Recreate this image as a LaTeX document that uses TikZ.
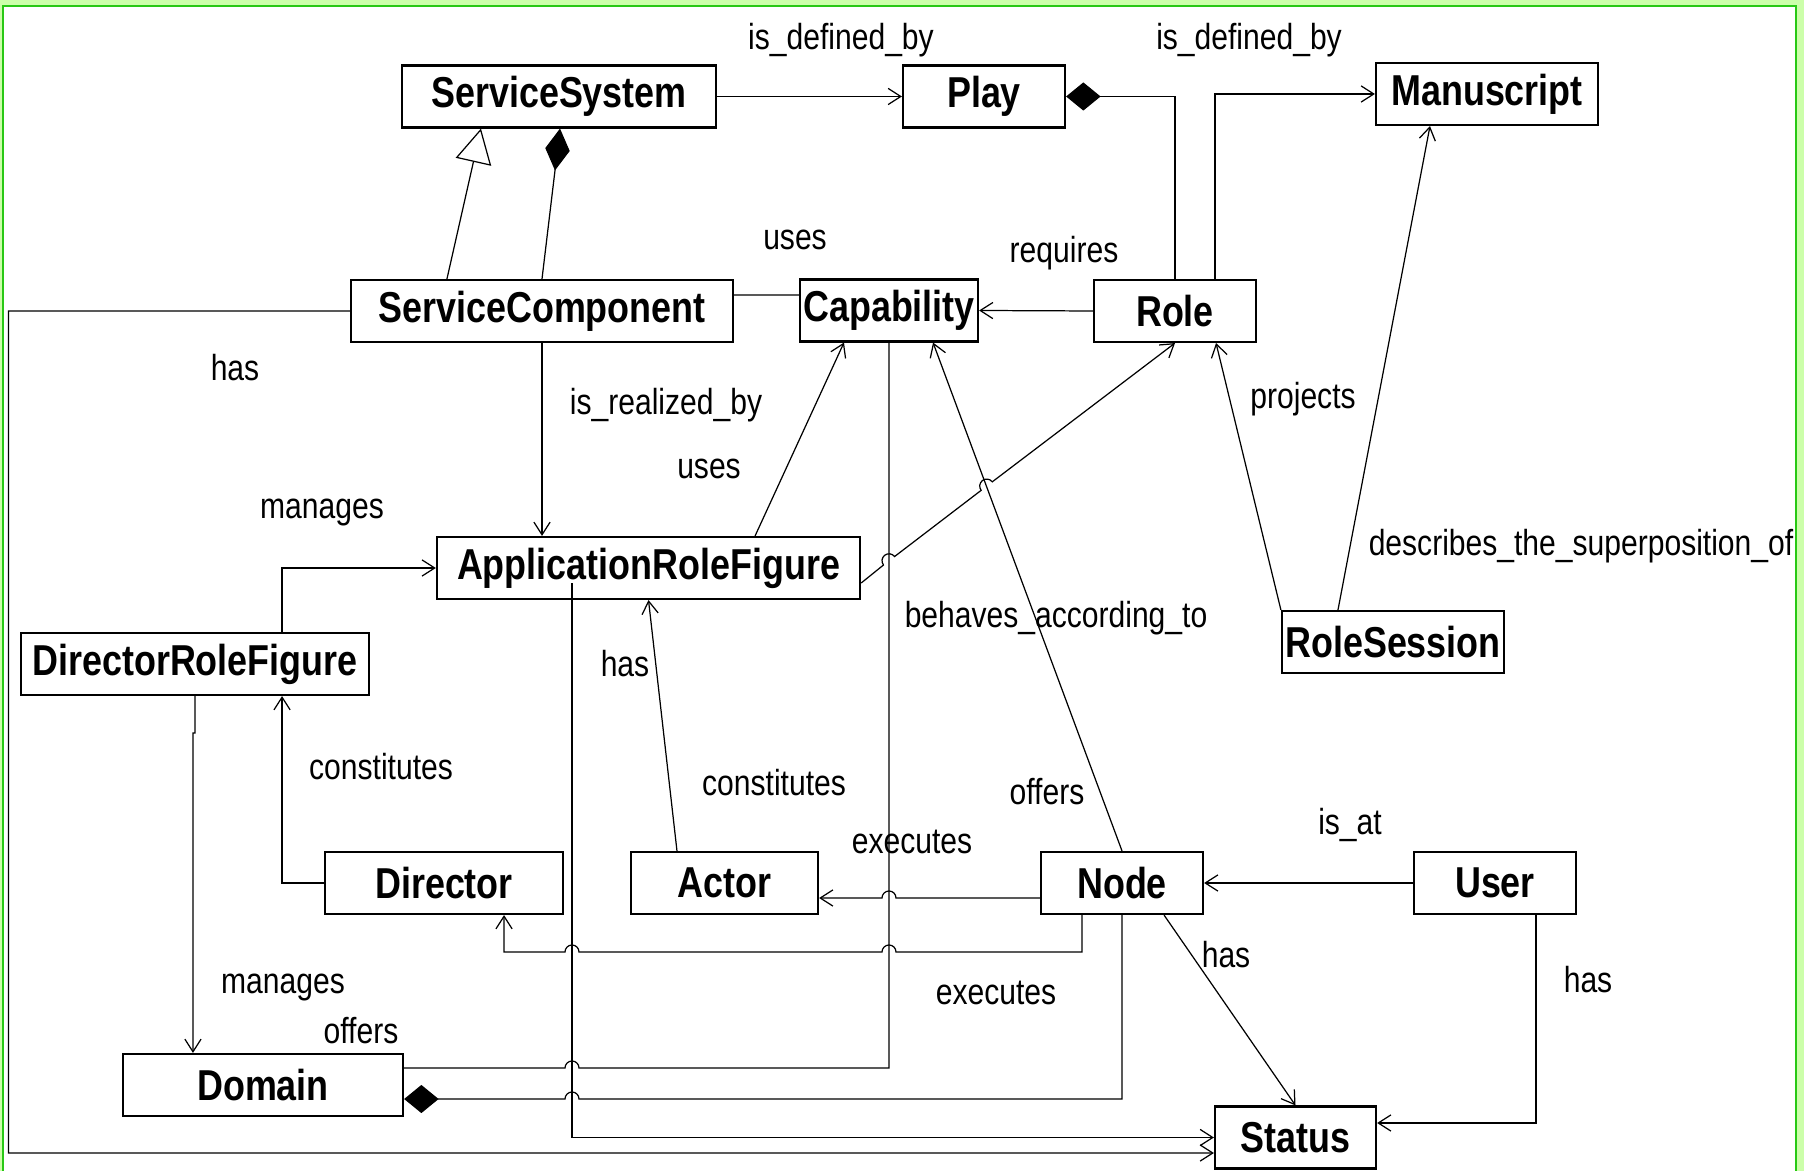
\documentclass[tikz,border=0pt]{standalone}
\usepackage{fontspec}
\setmainfont{Liberation Sans}[FakeStretch=0.83]
\usetikzlibrary{arrows.meta, calc}
\definecolor{palegreen}{RGB}{204,255,170}
\definecolor{framegreen}{RGB}{40,200,20}
\tikzset{
  cls/.style={rectangle, draw=black, line width=0.6pt, minimum height=0.62cm, inner sep=0pt, font=\fontsize{12.3}{14}\selectfont\bfseries},
  lbl/.style={inner sep=0pt, font=\fontsize{10.3}{12}\selectfont},
  conn/.style={line width=0.35pt},
  nav/.style={conn, -{Straight Barb[length=3.6pt,width=4.6pt]}},
  owner/.style={conn, -{Diamond[length=9.8pt,width=8pt]}},
  gen/.style={conn, -{Triangle[open,length=9.7pt,width=10.3pt]}}
}

\begin{document}
\begin{tikzpicture}[x=0.01cm, y=0.01cm]

% frame
\useasboundingbox (0,0) rectangle (1804,-1171);
\fill[palegreen] (0,0) rectangle (1804,-1171);
\draw[framegreen, line width=0.8pt, fill=white] (3,-6) rectangle (1796,-1185);

% classes
\node[cls, minimum width=3.14cm] (sys) at (559,-96.5) {ServiceSystem};
\node[cls, minimum width=1.62cm] (play) at (984,-96.5) {Play};
\node[cls, minimum width=2.22cm] (manu) at (1487,-94) {Manuscript};
\node[cls, minimum width=3.82cm] (comp) at (542,-311) {ServiceComponent};
\node[cls, minimum width=1.78cm] (cap) at (889,-310.5) {Capability};
\node[cls, minimum width=1.62cm] (role) at (1175,-311) {Role};
\node[cls, minimum width=4.23cm] (arf) at (648.5,-568) {ApplicationRoleFigure};
\node[cls, minimum width=3.48cm] (drf) at (195,-664) {DirectorRoleFigure};
\node[cls, minimum width=2.22cm] (rsess) at (1393,-642) {RoleSession};
\node[cls, minimum width=2.38cm] (dir) at (444,-883) {Director};
\node[cls, minimum width=1.87cm] (actor) at (724.5,-883) {Actor};
\node[cls, minimum width=1.62cm] (nd) at (1122,-883) {Node};
\node[cls, minimum width=1.62cm] (user) at (1495,-883) {User};
\node[cls, minimum width=2.8cm] (dom) at (263,-1085) {Domain};
\node[cls, minimum width=1.61cm] (stat) at (1295.5,-1137.5) {Status};

% top part
\draw[gen] ([xshift=-0.95cm]comp.north) -- ([xshift=-0.78cm]sys.south);
\draw[conn, -{Diamond[length=12pt,width=7pt]}] (comp.north) -- ([xshift=0.01cm]sys.south);
\draw[nav] (sys.east) -- (play.west);
\draw[owner] (role.north) |- (play.east);
\draw[nav] ([xshift=0.4cm]role.north) |- (manu.west);
\draw[conn] ([yshift=0.16cm]comp.east) -- ([yshift=0.155cm]cap.west);
\draw[nav] (role.west) -- (cap.east);
\draw[nav] (comp.south) -- (comp.south |- arf.north);
\draw[nav] ([xshift=1.065cm]arf.north) -- ([xshift=-0.45cm]cap.south);
\draw[nav] (nd.north) -- ([xshift=0.44cm]cap.south);
\draw[nav] ([yshift=-0.15cm]arf.east) -- (883.44,-565.05)
  arc[start angle=217.42, end angle=37.42, radius=0.07cm] -- (981.14,-490.35)
  arc[start angle=217.42, end angle=37.42, radius=0.07cm] -- (role.south);
\draw[nav] (rsess.north west) -- ([xshift=0.41cm]role.south);
\draw[nav] ([xshift=-0.55cm]rsess.north) -- ([xshift=-0.57cm]manu.south);

% left part
\coordinate (lft) at (8.5,-1153);
\draw[nav] (comp.west) -| (lft) -- ([yshift=-0.155cm]stat.west);
\draw[nav] (dir.west) -| ([xshift=0.87cm]drf.south);
\draw[nav] ([xshift=0.87cm]drf.north) |- (arf.west);
\draw[nav] (drf.south) -- (195,-733) -- (193,-733) -- ([xshift=-0.7cm]dom.north);
\draw[nav] ([xshift=-0.475cm]actor.north) -- (arf.south);
\draw[nav] ([xshift=-0.765cm,yshift=-0.15cm]arf.center) |- (stat.west);

% bottom part
\draw[conn] (cap.south) -- (889,-1068) -- (579,-1068)
  arc[start angle=0, end angle=180, radius=0.07cm] -- ([yshift=0.17cm]dom.east);
\draw[owner] (nd.south) -- (1122,-1099) -- (579,-1099)
  arc[start angle=0, end angle=180, radius=0.07cm] -- ([yshift=-0.14cm]dom.east);
\draw[nav] ([xshift=-0.4cm]nd.south) -- (1082,-952) -- (896,-952)
  arc[start angle=0, end angle=180, radius=0.07cm] -- (579,-952)
  arc[start angle=0, end angle=180, radius=0.07cm] -- (504,-952) -- ([xshift=0.6cm]dir.south);
\draw[nav] ([yshift=-0.15cm]nd.west) -- (896,-898)
  arc[start angle=0, end angle=180, radius=0.07cm] -- ([yshift=-0.15cm]actor.east);
\draw[nav] (user.west) -- (nd.east);
\draw[nav] ([xshift=0.41cm]user.south) |- ([yshift=0.145cm]stat.east);
\draw[nav] ([xshift=0.42cm]nd.south) -- (stat.north);

% association names
\node[lbl] (t1) at (841,-40) {is\_defined\_by};
\node[lbl] (t2) at (1249,-40) {is\_defined\_by};
\node[lbl] (t3) at (795,-240) {uses};
\node[lbl] (t4) at (1064,-253) {requires};
\node[lbl] (t5) at (235,-368) {has};
\node[lbl] (t6) at (666,-405) {is\_realized\_by};
\node[lbl] (t7) at (709,-469) {uses};
\node[lbl] (t8) at (322,-513) {manages};
\node[lbl] (t9) at (1303,-399) {projects};
\node[lbl] (t10) at (1581,-546) {describes\_the\_superposition\_of};
\node[lbl] (t11) at (1056,-618) {behaves\_according\_to};
\node[lbl] (t12) at (625,-664) {has};
\node[lbl] (t13) at (381,-767) {constitutes};
\node[lbl] (t14) at (774,-783) {constitutes};
\node[lbl] (t15) at (1047,-792) {offers};
\node[lbl] (t16) at (1350,-825) {is\_at};
\node[lbl] (t17) at (912,-842) {executes};
\node[lbl] (t18) at (1226,-955) {has};
\node[lbl] (t19) at (1588,-980) {has};
\node[lbl] (t20) at (996,-993) {executes};
\node[lbl] (t21) at (283,-988) {manages};
\node[lbl] (t22) at (361,-1031) {offers};

\end{tikzpicture}
\end{document}
